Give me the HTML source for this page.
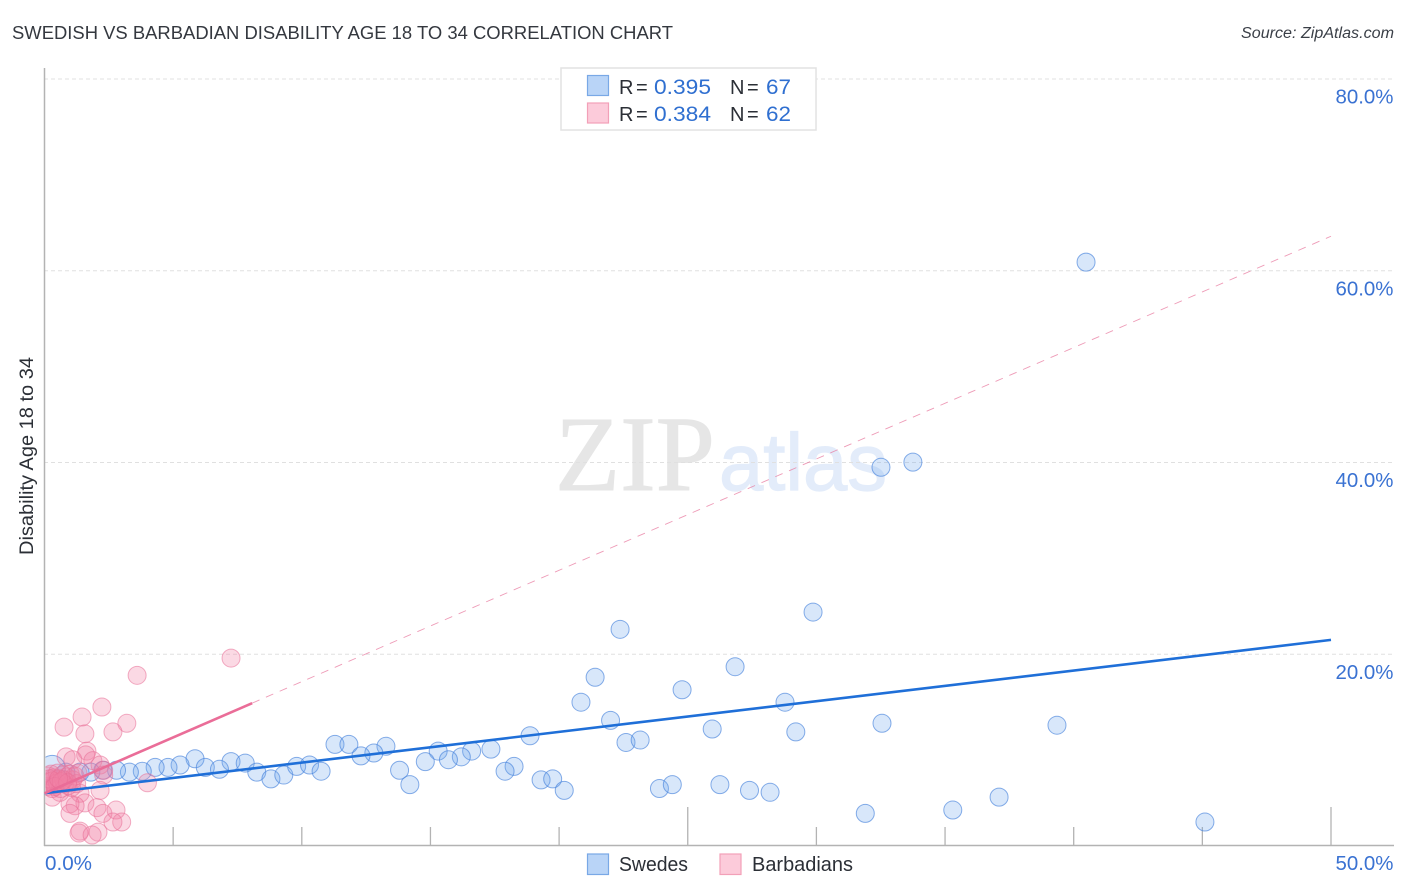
<!DOCTYPE html>
<html lang="en">
<head>
<meta charset="utf-8">
<title>Swedish vs Barbadian Disability Age 18 to 34 Correlation Chart</title>
<style>
html,body{margin:0;padding:0;background:#fff;width:1406px;height:892px;overflow:hidden}
svg{display:block;font-family:"Liberation Sans",sans-serif}
</style>
</head>
<body>
<svg id="chart" width="1406" height="892" viewBox="0 0 1406 892" xmlns="http://www.w3.org/2000/svg">
  <defs>
    <clipPath id="plot-clip"><rect x="45.5" y="60" width="1350" height="785"/></clipPath>
  </defs>
  <text x="12" y="39" font-size="18.5" fill="#34383f" textLength="661" lengthAdjust="spacingAndGlyphs">SWEDISH VS BARBADIAN DISABILITY AGE 18 TO 34 CORRELATION CHART</text>
  <text x="1394" y="38" font-size="15.5" font-style="italic" fill="#3a3f47" text-anchor="end" textLength="153" lengthAdjust="spacingAndGlyphs">Source: ZipAtlas.com</text>
  <text x="555" y="490" font-family="'Liberation Serif',serif" font-size="107" fill="#e6e6e6" stroke="#e6e6e6" stroke-width="1" textLength="160" lengthAdjust="spacingAndGlyphs">ZIP</text>
  <text x="719" y="490" font-size="81" fill="#e3ecfa" stroke="#e3ecfa" stroke-width="1.2" textLength="168" lengthAdjust="spacingAndGlyphs">atlas</text>
  <g id="grid"></g>
  <g id="axes"></g>
  <g id="swedes" clip-path="url(#plot-clip)"></g>
  <g id="barbadians" clip-path="url(#plot-clip)"></g>
  <g id="trends"></g>

  <g font-size="20">
    <rect x="561" y="68" width="255" height="62" fill="#fff" stroke="#e2e2e2" stroke-width="1.5"/>
    <rect x="587.5" y="75.5" width="21" height="20" fill="#b9d4f7" stroke="#79a8e6" stroke-width="1.2"/>
    <text x="619" y="94" fill="#2b2f36">R <tspan x="636">=</tspan></text>
    <text x="654" y="94" fill="#2f6fd0" font-size="21.5" textLength="57" lengthAdjust="spacingAndGlyphs">0.395</text>
    <text x="730" y="94" fill="#2b2f36">N <tspan x="747">=</tspan></text>
    <text x="766" y="94" fill="#2f6fd0" font-size="21.5" textLength="25" lengthAdjust="spacingAndGlyphs">67</text>
    <rect x="587.5" y="103" width="21" height="20" fill="#fccbda" stroke="#f2a0b8" stroke-width="1.2"/>
    <text x="619" y="121" fill="#2b2f36">R <tspan x="636">=</tspan></text>
    <text x="654" y="121" fill="#2f6fd0" font-size="21.5" textLength="57" lengthAdjust="spacingAndGlyphs">0.384</text>
    <text x="730" y="121" fill="#2b2f36">N <tspan x="747">=</tspan></text>
    <text x="766" y="121" fill="#2f6fd0" font-size="21.5" textLength="25" lengthAdjust="spacingAndGlyphs">62</text>
  </g>

  <g font-size="20" fill="#2b2f36">
    <rect x="587.5" y="854" width="21" height="20.5" fill="#b9d4f7" stroke="#79a8e6" stroke-width="1.2"/>
    <text x="619" y="871" textLength="69" lengthAdjust="spacingAndGlyphs">Swedes</text>
    <rect x="720" y="854" width="21" height="20.5" fill="#fccbda" stroke="#f2a0b8" stroke-width="1.2"/>
    <text x="752" y="871" textLength="101" lengthAdjust="spacingAndGlyphs">Barbadians</text>
  </g>

  <text transform="translate(33,456) rotate(-90)" font-size="19" fill="#2b2f36" text-anchor="middle" textLength="198" lengthAdjust="spacingAndGlyphs">Disability Age 18 to 34</text>
</svg>
<script>
const yTickValues = [20, 40, 60, 80];
const yTickLabels = ["20.0%", "40.0%", "60.0%", "80.0%"];
const xTickValues = [0, 5, 10, 15, 20, 25, 30, 35, 40, 45, 50];
const xMajorTicks = [25, 50];
const xEdgeValues = [0, 50];
const xEdgeLabels = ["0.0%", "50.0%"];

const swedesX = [40.48,33.75,32.51,29.87,22.37,21.4,26.84,24.78,20.85,28.78,22.0,32.55,39.35,25.95,29.2,18.87,22.6,23.15,11.29,11.83,13.27,12.8,12.3,15.3,17.35,16.6,16.2,15.7,14.8,13.8,14.2,18.25,17.9,19.3,19.75,20.2,23.9,24.4,26.25,27.4,28.2,31.9,35.3,37.1,45.1,5.85,7.25,7.8,6.25,6.8,5.27,4.8,4.3,3.8,3.3,2.8,2.27,1.8,1.38,0.83,0.3,8.25,8.8,9.3,9.8,10.3,10.75];
const swedesY = [60.9,40.04,39.5,24.4,22.6,17.6,18.7,16.3,15.0,15.0,13.1,12.8,12.6,12.2,11.9,11.5,10.8,11.05,10.6,10.6,10.4,9.7,9.4,9.9,10.1,9.9,9.3,9.0,8.8,7.9,6.4,8.3,7.8,6.9,7.0,5.8,6.0,6.4,6.4,5.8,5.6,3.4,3.75,5.1,2.5,9.1,8.8,8.65,8.2,8.0,8.45,8.2,8.2,7.8,7.7,7.9,7.9,7.7,7.7,7.7,8.1,7.7,7.0,7.4,8.3,8.45,7.8];
const swedesBigIndex = [60];

const barbadiansX = [7.25,3.6,2.23,3.2,1.46,0.76,2.66,1.57,1.65,1.6,0.84,1.1,1.88,2.16,2.3,4.0,2.3,2.16,1.38,1.57,1.19,0.99,0.99,2.04,2.27,2.78,3.0,2.66,2.08,1.38,1.34,1.85,0.3,0.6,0.1,0.15,0.2,0.25,0.3,0.35,0.4,0.5,0.55,0.62,0.7,0.78,0.85,0.92,1.0,1.05,1.1,1.18,1.25,0.3,0.5,0.75,0.2,0.4,0.65,0.9,0.55,1.3];
const barbadiansY = [19.6,17.8,14.5,12.8,13.45,12.4,11.9,11.7,9.9,9.5,9.3,9.0,8.9,8.45,7.9,6.6,7.4,5.8,5.5,4.5,4.2,4.4,3.4,4.0,3.4,3.75,2.5,2.5,1.45,1.55,1.35,1.15,5.1,5.6,6.2,7.3,6.7,7.5,6.0,7.1,6.4,7.6,6.8,6.0,7.4,6.5,7.2,6.3,7.5,6.1,6.9,7.3,6.5,6.8,6.6,6.9,7.0,6.2,6.7,6.6,7.0,7.6];

const swedesTrendX = [0, 50];
const swedesTrendY = [5.5, 21.5];
const barbadiansSolidX = [0, 8.07];
const barbadiansSolidY = [5.5, 14.9];
const barbadiansDashX = [8.07, 50];
const barbadiansDashY = [14.9, 63.6];

const NS = "http://www.w3.org/2000/svg";
const xPos = v => 44.5 + v * (1331 - 44.5) / 50;
const yPos = v => 846 - v * (846 - 79) / 80;
const make = (parent, tag, props, text) => {
  const el = document.createElementNS(NS, tag);
  for (const k in props) el.setAttribute(k, props[k]);
  if (text !== undefined) el.textContent = text;
  document.getElementById(parent).appendChild(el);
  return el;
};

yTickValues.forEach((v, i) => {
  const line = make("grid", "line", {x1: 44, x2: 1394, y1: yPos(v), y2: yPos(v), stroke: "#e0e0e0", "stroke-width": 1, "stroke-dasharray": "4 3"});
  
  
  const label = make("axes", "text", {x: 1393.5, y: yPos(v) + 24.5, "font-size": 20, fill: "#3a72d2", "text-anchor": "end", textLength: 58, lengthAdjust: "spacingAndGlyphs"}, yTickLabels[i]);
  
  
});

const yAxis = make("axes", "line", {x1: 44.5, x2: 44.5, y1: 68, y2: 846, stroke: "#b3b3b3", "stroke-width": 1.5});


const xAxis = make("axes", "line", {x1: 44, x2: 1394, y1: 845.5, y2: 845.5, stroke: "#b3b3b3", "stroke-width": 1.5});



xTickValues.slice(1).forEach(v => {
  const top = xMajorTicks.includes(v) ? 807 : 827;
  const tick = make("axes", "line", {x1: xPos(v), x2: xPos(v), y1: top, y2: 846, stroke: "#b3b3b3", "stroke-width": 1.3});
  
  
});

xEdgeValues.forEach((v, i) => {
  const label = make("axes", "text", {x: i === 0 ? xPos(v) + 0.5 : xPos(v) + 62.5, y: 870, "font-size": 20, fill: "#3a72d2", "text-anchor": i === 0 ? "start" : "end", textLength: i === 0 ? 47 : 58, lengthAdjust: "spacingAndGlyphs"}, xEdgeLabels[i]);
  
  
});

swedesX.forEach((v, i) => {
  const big = swedesBigIndex.includes(i);
  const dot = make("swedes", "circle", {cx: xPos(v), cy: yPos(swedesY[i]), r: big ? 13 : 9, fill: "rgba(110,165,235,0.27)", stroke: "rgba(70,130,220,0.65)", "stroke-width": 1});
  
  
});

barbadiansX.forEach((v, i) => {
  const dot = make("barbadians", "circle", {cx: xPos(v), cy: yPos(barbadiansY[i]), r: 9, fill: "rgba(243,130,165,0.3)", stroke: "rgba(232,110,150,0.55)", "stroke-width": 1});
  
  
});

const dashTrend = make("trends", "line", {x1: xPos(barbadiansDashX[0]), y1: yPos(barbadiansDashY[0]), x2: xPos(barbadiansDashX[1]), y2: yPos(barbadiansDashY[1]), stroke: "rgba(232,121,159,0.75)", "stroke-width": 0.9, "stroke-dasharray": "8 7"});


const blueTrend = make("trends", "line", {x1: xPos(swedesTrendX[0]), y1: yPos(swedesTrendY[0]), x2: xPos(swedesTrendX[1]), y2: yPos(swedesTrendY[1]), stroke: "#1f6fd8", "stroke-width": 2.6});


const pinkTrend = make("trends", "line", {x1: xPos(barbadiansSolidX[0]), y1: yPos(barbadiansSolidY[0]), x2: xPos(barbadiansSolidX[1]), y2: yPos(barbadiansSolidY[1]), stroke: "#ea6d98", "stroke-width": 2.6});


</script>
</body>
</html>
